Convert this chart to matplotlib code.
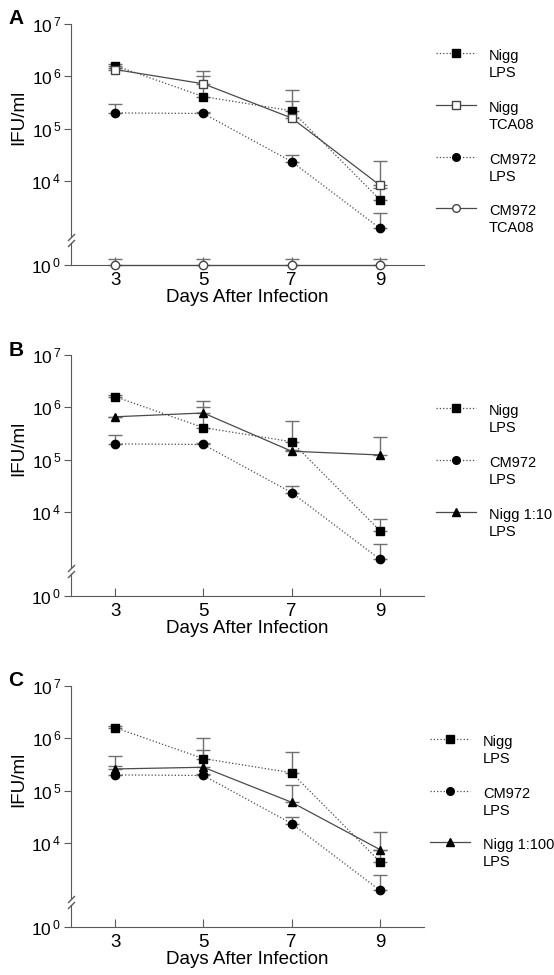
import numpy as np
import matplotlib
matplotlib.use("Agg")
import matplotlib.pyplot as plt
from matplotlib.lines import Line2D

plt.rcParams['font.family'] = ['Liberation Sans', 'DejaVu Sans']
plt.rcParams['mathtext.fontset'] = 'custom'
plt.rcParams['mathtext.rm'] = 'Liberation Sans'

# data (IFU/ml); *_top = top of error bar
days = [3, 5, 7, 9]
nigg_lps = [1.6e6, 4.1e5, 2.2e5, 4.4e3]
nigg_lps_top = [1.7e6, 1.0e6, 5.6e5, 7.3e3]
nigg_tca = [1.35e6, 7.2e5, 1.6e5, 8.3e3]
nigg_tca_top = [1.45e6, 1.25e6, 3.4e5, 2.4e4]
cm_lps = [2.0e5, 1.95e5, 2.35e4, 1.25e3]
cm_lps_top = [3.0e5, 2.1e5, 3.2e4, 2.5e3]
cm_tca = [1, 1, 1, 1]
cm_tca_top = [1.3, 1.3, 1.3, 1.3]
nigg10 = [6.6e5, 7.8e5, 1.45e5, 1.23e5]
nigg10_top = [6.6e5, 1.3e6, 1.5e5, 2.7e5]
nigg100 = [2.6e5, 2.8e5, 6.0e4, 7.5e3]
nigg100_top = [4.5e5, 6.0e5, 1.26e5, 1.6e4]

W, H = 554, 975
GRAY = '#5a5a5a'
LC = '#4a4a4a'

styles = {
    'nigg_lps': dict(ls=':', marker='s', mfc='k', mec='k', label='Nigg\nLPS'),
    'nigg_tca': dict(ls='-', marker='s', mfc='white', mec='#444444', label='Nigg\nTCA08'),
    'cm_lps': dict(ls=':', marker='o', mfc='k', mec='k', label='CM972\nLPS'),
    'cm_tca': dict(ls='-', marker='o', mfc='white', mec='#444444', label='CM972\nTCA08'),
    'nigg10': dict(ls='-', marker='^', mfc='k', mec='k', label='Nigg 1:10\nLPS'),
    'nigg100': dict(ls='-', marker='^', mfc='k', mec='k', label='Nigg 1:100\nLPS'),
}

series = {
    'nigg_lps': (nigg_lps, nigg_lps_top),
    'nigg_tca': (nigg_tca, nigg_tca_top),
    'cm_lps': (cm_lps, cm_lps_top),
    'cm_tca': (cm_tca, cm_tca_top),
    'nigg10': (nigg10, nigg10_top),
    'nigg100': (nigg100, nigg100_top),
}

# letter, vertical offset (px), series, legend rows (px, relative), legend x (px)
panels = [
    ('A', 0, ['nigg_lps', 'nigg_tca', 'cm_lps', 'cm_tca'], [53, 105, 157, 208], 436),
    ('B', 331, ['nigg_lps', 'cm_lps', 'nigg10'], [77, 129, 181], 436),
    ('C', 662, ['nigg_lps', 'cm_lps', 'nigg100'], [77, 129, 180], 430),
]

fig = plt.figure(figsize=(W / 100, H / 100), dpi=100)


def rect(x0, x1, y0, y1):
    return [x0 / W, 1 - y1 / H, (x1 - x0) / W, (y1 - y0) / H]


def msize(marker):
    return 6.2 if marker == '^' else 6


for letter, off, keys, leg_y, leg_x in panels:
    ax = fig.add_axes(rect(71, 424, 24 + off, 237 + off))
    axb = fig.add_axes(rect(71, 424, 243 + off, 265 + off), sharex=ax)
    for a in (ax, axb):
        a.set_yscale('log')
        a.patch.set_alpha(0)
        for s in ('top', 'right'):
            a.spines[s].set_visible(False)
        a.spines['left'].set_color(GRAY)
        a.spines['bottom'].set_color(GRAY)
        a.yaxis.set_minor_locator(matplotlib.ticker.NullLocator())
        a.tick_params(axis='y', which='major', direction='out', length=5,
                      color=GRAY, labelsize=12.5, pad=2)
    ax.spines['bottom'].set_visible(False)
    ax.tick_params(axis='x', bottom=False, labelbottom=False)
    ax.set_ylim(10 ** 2.93, 1e7)
    ax.set_yticks([1e4, 1e5, 1e6, 1e7])
    ax.set_yticklabels([r'$\mathregular{10^{\,%d}}$' % k for k in (4, 5, 6, 7)])
    axb.set_ylim(1, 10 ** 0.42)
    axb.set_yticks([1])
    axb.set_yticklabels([r'$\mathregular{10^{\,0}}$'])
    axb.set_xlim(2, 10)
    axb.set_xticks(days)
    axb.tick_params(axis='x', direction='in', length=6, color=GRAY,
                    labelsize=13.5, pad=5)
    axb.set_xlabel('Days After Infection', fontsize=13.5, labelpad=0)

    # broken-axis marks
    kw = dict(marker=[(-1, -1), (1, 1)], markersize=5, ls='none',
              color=GRAY, mec=GRAY, mew=1, clip_on=False)
    ax.plot([0], [0], transform=ax.transAxes, **kw)
    axb.plot([0], [1], transform=axb.transAxes, **kw)

    for k in keys:
        vals, tops = series[k]
        st = styles[k]
        target = axb if k == 'cm_tca' else ax
        v = np.array(vals)
        err = np.array(tops) - v
        target.errorbar(days, v, yerr=[np.zeros_like(err), err], fmt='none',
                        ecolor='#707070', elinewidth=1, capsize=5, capthick=1,
                        zorder=2, clip_on=False)
        target.plot(days, v, ls=st['ls'], color=LC, lw=0.9, marker=st['marker'],
                    ms=msize(st['marker']), mfc=st['mfc'],
                    mec=st['mec'], mew=1, zorder=3, clip_on=False)

    ax.set_ylabel('IFU/ml', fontsize=13.5)
    ax.yaxis.set_label_coords(-0.125, 0.56)
    fig.text(16 / W, 1 - (19 + off) / H, letter, fontsize=15, fontweight='bold',
             ha='center', va='center')

    # legend
    for k, yy in zip(keys, leg_y):
        st = styles[k]
        yf = 1 - (yy + off) / H
        fig.add_artist(Line2D([leg_x / W, (leg_x + 40) / W], [yf, yf],
                              ls=st['ls'], color=LC, lw=0.9))
        fig.add_artist(Line2D([(leg_x + 20) / W], [yf], marker=st['marker'],
                              ms=msize(st['marker']) - 0.5,
                              mfc=st['mfc'], mec=st['mec'], mew=1, ls='none'))
        fig.text((leg_x + 53) / W, yf + 4 / H, st['label'], fontsize=10.5,
                 ha='left', va='top', linespacing=1.3)

fig.savefig('out.png', dpi=100)
